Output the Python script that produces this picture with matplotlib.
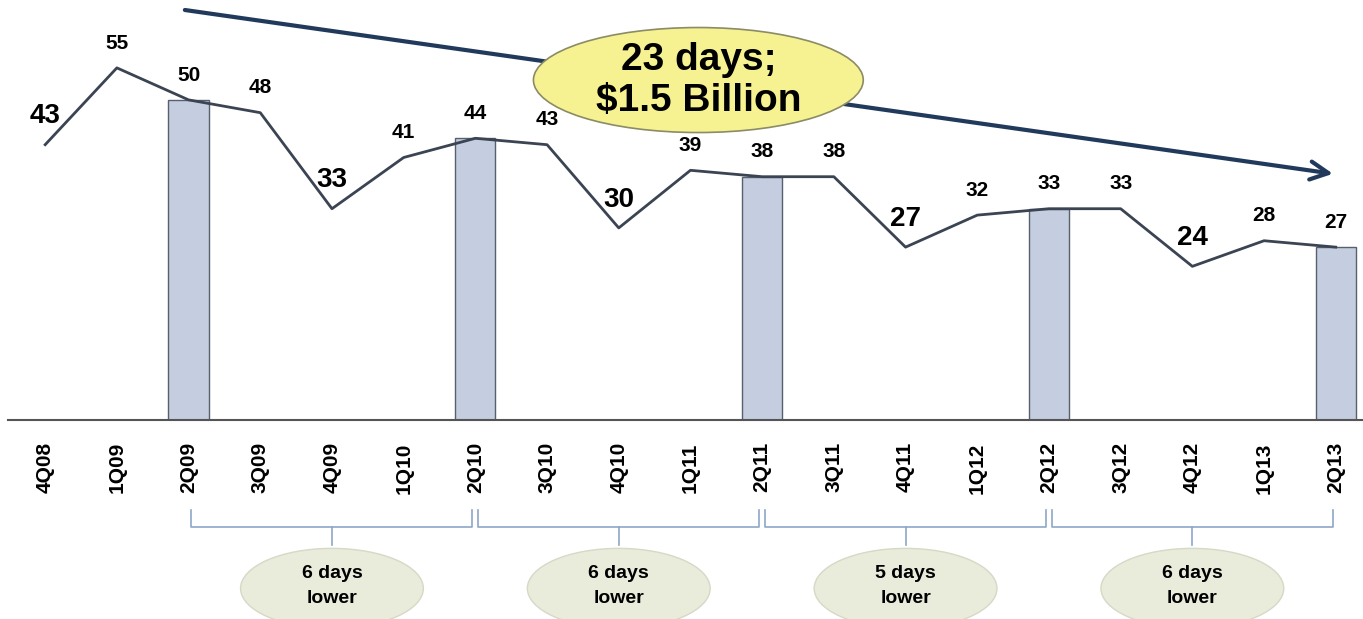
import matplotlib
matplotlib.use("Agg")
import matplotlib.pyplot as plt
from matplotlib.patches import Ellipse

# data
quarters = ["4Q08", "1Q09", "2Q09", "3Q09", "4Q09", "1Q10", "2Q10", "3Q10", "4Q10", "1Q11",
            "2Q11", "3Q11", "4Q11", "1Q12", "2Q12", "3Q12", "4Q12", "1Q13", "2Q13"]
days = [43, 55, 50, 48, 33, 41, 44, 43, 30, 39, 38, 38, 27, 32, 33, 33, 24, 28, 27]
bar_quarters = ["2Q09", "2Q10", "2Q11", "2Q12", "2Q13"]
big_label_quarters = ["4Q08", "4Q09", "4Q10", "4Q11", "4Q12"]
periods = [("2Q09", "2Q10", "6 days\nlower"), ("2Q10", "2Q11", "6 days\nlower"),
           ("2Q11", "2Q12", "5 days\nlower"), ("2Q12", "2Q13", "6 days\nlower")]
headline = "23 days;\n$1.5 Billion"

line_color = "#3b4452"
bar_color = "#c4cee0"
bar_edge = "#56606e"
arrow_color = "#213a5c"
bracket_color = "#8ea7c6"
font = ["Liberation Sans", "DejaVu Sans"]

x = list(range(len(quarters)))
idx = {q: i for i, q in enumerate(quarters)}

fig = plt.figure(figsize=(13.63, 6.19), dpi=100)
ax = fig.add_axes([0, 1 - 420 / 619, 1, 420 / 619])
ax.set_xlim(-0.63, 18.38)
ax.set_ylim(0, 65.6)

bx = [idx[q] for q in bar_quarters]
ax.bar(bx, [days[i] for i in bx], width=0.56, color=bar_color, edgecolor=bar_edge, linewidth=1, zorder=2)
ax.plot(x, days, color=line_color, linewidth=2, zorder=3)

for i, v in enumerate(days):
    big = quarters[i] in big_label_quarters
    ax.annotate(str(v), (i, v), xytext=(0, 11), textcoords="offset points",
                ha="center", va="bottom", fontsize=20 if big else 15,
                fontweight="bold", family=font, color="black", zorder=5)

# trend arrow and headline bubble
ax.annotate("", xy=(18.0, 38.4), xytext=(1.91, 64.1),
            arrowprops=dict(arrowstyle="->,head_length=1.3,head_width=0.65",
                            color=arrow_color, lw=3), zorder=4)
ax.add_patch(Ellipse((9.11, 53.1), 4.6, 16.4, facecolor="#f6f291", edgecolor="#8b8b66",
                     linewidth=1.2, zorder=6))
ax.text(9.11, 53.0, headline, ha="center", va="center", fontsize=28, fontweight="bold",
        family=font, linespacing=1.2, zorder=7)

# axis
for s in ["top", "right", "left"]:
    ax.spines[s].set_visible(False)
ax.spines["bottom"].set_color("#555555")
ax.spines["bottom"].set_linewidth(1.5)
ax.spines["bottom"].set_bounds(-0.52, 18.38)
ax.set_yticks([])
ax.set_xticks(x)
ax.set_xticklabels(quarters, rotation=90, fontsize=15, fontweight="bold", family=font)
ax.tick_params(axis="x", length=0, pad=16)

# brackets and period bubbles below the axis
top, mid, tip = -14.1, -16.7, -19.5
for a, b, txt in periods:
    x0, x1 = idx[a] + 0.04, idx[b] - 0.04
    xm = (idx[a] + idx[b]) / 2
    ax.plot([x0, x0, x1, x1], [top, mid, mid, top], color=bracket_color, lw=1.2, clip_on=False)
    ax.plot([xm, xm], [mid, tip], color=bracket_color, lw=1.2, clip_on=False)
    ax.add_patch(Ellipse((xm, -26.3), 2.55, 12.5, facecolor="#e9ebdb", edgecolor="#d6d9c6",
                         linewidth=1, clip_on=False))
    ax.text(xm, -25.9, txt, ha="center", va="center", fontsize=14, fontweight="bold",
            family=font, linespacing=1.6, clip_on=False)

fig.savefig("out.png", dpi=100)
